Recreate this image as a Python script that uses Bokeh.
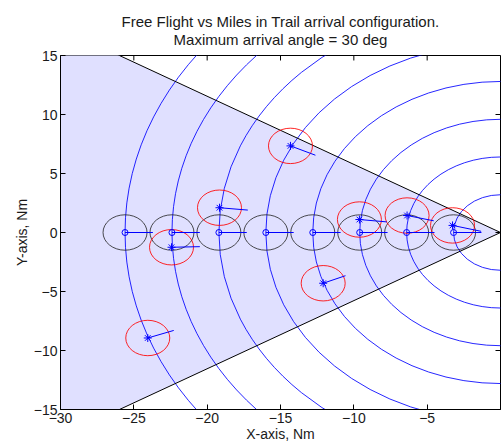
import numpy as np
from bokeh.plotting import figure
from bokeh.models import Range1d, FixedTicker, Title, Label
from bokeh.embed import file_html
from bokeh.resources import INLINE

# ---- text ----
title_lines = ["Free Flight vs Miles in Trail arrival configuration.",
               "Maximum arrival angle = 30 deg"]
x_label = "X-axis, Nm"
y_label = "Y-axis, Nm"
x_ticks = [-30, -25, -20, -15, -10, -5, 0]
y_ticks = [-15, -10, -5, 0, 5, 10, 15]

# ---- geometry / data ----
max_angle_deg = 30
sector_radius = 40
ring_radii = [3.2, 6.4, 9.6, 12.8, 16.0, 19.2, 22.4, 25.6]
sep_radius = 1.5

# miles-in-trail aircraft (o) and their velocity vectors
mit_x = [-3.2, -6.4, -9.6, -12.8, -16.0, -19.2, -22.4, -25.6]
mit_y = [0, 0, 0, 0, 0, 0, 0, 0]
mit_dx = [1.9, 1.9, 1.9, 1.9, 1.9, 1.9, 1.9, 1.9]
mit_dy = [0, 0, 0, 0, 0, 0, 0, 0]

# free-flight aircraft (*) and their velocity vectors
ff_x = [-14.32, -19.16, -22.43, -24.05, -12.09, -9.62, -6.37, -3.27]
ff_y = [7.34, 2.10, -1.25, -8.94, -4.30, 1.10, 1.44, 0.60]
ff_dx = [1.70, 1.93, 1.93, 1.77, 1.52, 1.86, 1.82, 1.95]
ff_dy = [-0.79, -0.20, 0.05, 0.64, 0.64, -0.20, -0.45, -0.50]

FONT = "Liberation Sans"
TXT = "#1a1a1a"
XMIN, XMAX, YMIN, YMAX = -30, 0, -15, 15
FRAME_W, FRAME_H = 440, 355
TICK = 5           # px, inward tick length
XLAB_STANDOFF = 3  # px, x tick labels below the frame

p = figure(width=501, height=444, output_backend="svg", toolbar_location=None,
           x_range=Range1d(XMIN, XMAX), y_range=Range1d(YMIN, YMAX),
           min_border_left=60, min_border_right=1, min_border_top=55,
           min_border_bottom=34, title=None)
p.background_fill_color = "white"
p.border_fill_color = "white"
p.outline_line_color = "black"
p.grid.visible = False

# two-line centred title (first added sits closest to the plot)
for txt, so in ((title_lines[1], 15), (title_lines[0], -17), ("", 21)):
    p.add_layout(Title(text=txt, align="center", text_font=FONT,
                       text_font_size="15px", text_font_style="normal",
                       text_color=TXT, standoff=so), "above")

for ax, ticks, lab in ((p.xaxis[0], x_ticks, x_label), (p.yaxis[0], y_ticks, y_label)):
    ax.ticker = FixedTicker(ticks=ticks)
    ax.axis_label = lab
    ax.axis_label_text_font = FONT
    ax.axis_label_text_font_size = "14px"
    ax.axis_label_text_font_style = "normal"
    ax.axis_label_text_color = TXT
    ax.major_label_text_font = FONT
    ax.major_label_text_font_size = "14px"
    ax.major_label_text_color = TXT
    ax.major_tick_in = TICK
    ax.major_tick_out = 0
    ax.minor_tick_line_color = None
    ax.axis_line_color = "black"
    ax.major_tick_line_color = "black"

p.xaxis.major_label_standoff = XLAB_STANDOFF
p.xaxis.axis_label_standoff = 0
p.yaxis.major_label_standoff = 3
p.yaxis.axis_label_standoff = 1

# the last x tick label sits on the frame's right edge; draw it as an overlay
# annotation (kept inside the canvas) so it does not push the frame inwards
p.xaxis.major_label_overrides = {x_ticks[-1]: ""}
p.add_layout(Label(x=x_ticks[-1], y=YMIN - XLAB_STANDOFF * (YMAX - YMIN) / FRAME_H,
                   text=str(x_ticks[-1]), text_align="right", text_baseline="top",
                   text_font=FONT, text_font_size="14px", text_color=TXT,
                   level="overlay"))

# arrival sector
a = np.deg2rad(max_angle_deg)
sx = [0, -sector_radius * np.cos(a), -sector_radius * np.cos(a)]
sy = [0, sector_radius * np.sin(a), -sector_radius * np.sin(a)]
p.patch(sx, sy, fill_color="#E0E0FF", line_color=None)

# range rings
rr = np.array(ring_radii)
p.ellipse(x=0, y=0, width=2 * rr, height=2 * rr, fill_color=None,
          line_color="#0000FF", line_width=1, line_alpha=0.85)

# sector boundaries
p.line([sx[1], 0, sx[2]], [sy[1], 0, sy[2]], line_color="black", line_width=1)

# separation circles
mx, my = np.array(mit_x), np.array(mit_y)
fx, fy = np.array(ff_x), np.array(ff_y)
p.ellipse(x=mx, y=my, width=2 * sep_radius, height=2 * sep_radius,
          fill_color=None, line_color="#202020", line_alpha=0.8, line_width=1)
p.ellipse(x=fx, y=fy, width=2 * sep_radius, height=2 * sep_radius,
          fill_color=None, line_color="#FF0000", line_alpha=0.85, line_width=1)

# velocity vectors
p.segment(x0=mx, y0=my, x1=mx + np.array(mit_dx), y1=my + np.array(mit_dy),
          line_color="#0000FF", line_width=1)
p.segment(x0=fx, y0=fy, x1=fx + np.array(ff_dx), y1=fy + np.array(ff_dy),
          line_color="#0000FF", line_width=1)

# aircraft markers
p.scatter(mx, my, marker="circle", size=6, fill_color=None, line_color="#0000FF")
p.scatter(fx, fy, marker="asterisk", size=8, line_color="#0000FF")

# mirrored inward ticks on the top and right edges of the box
xt = np.array(x_ticks, dtype=float)
yt = np.array(y_ticks, dtype=float)
ty = TICK * (YMAX - YMIN) / FRAME_H
tx = TICK * (XMAX - XMIN) / FRAME_W
p.segment(x0=xt, y0=np.full_like(xt, YMAX), x1=xt, y1=np.full_like(xt, YMAX - ty),
          line_color="black", line_width=1)
p.segment(x0=np.full_like(yt, XMAX), y0=yt, x1=np.full_like(yt, XMAX - tx), y1=yt,
          line_color="black", line_width=1)

open("out.html", "w").write(file_html(p, INLINE))
